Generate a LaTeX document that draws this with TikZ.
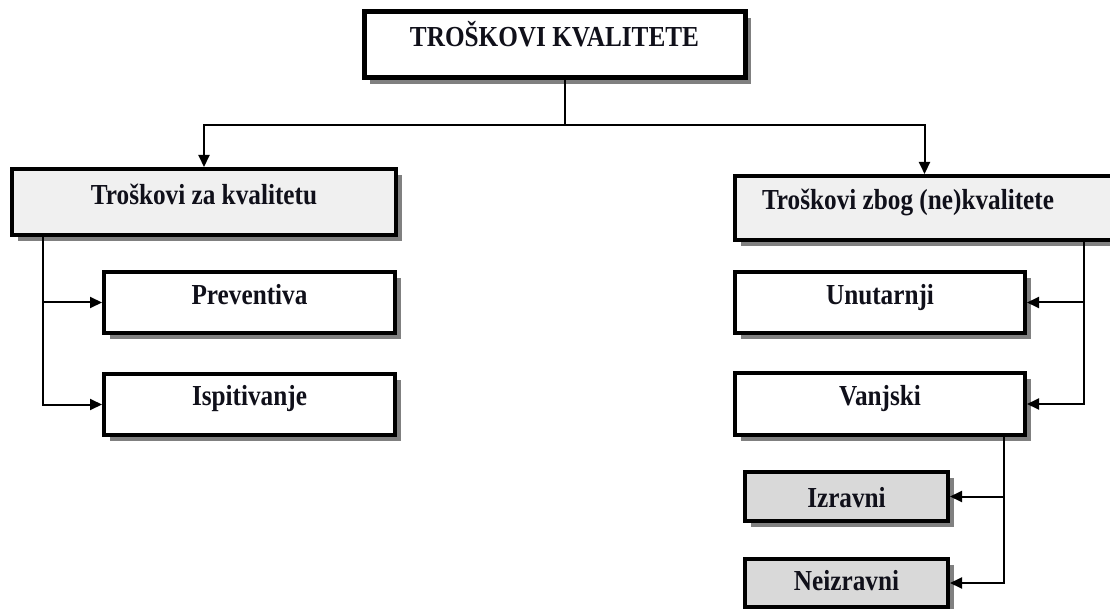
\documentclass[tikz,border=0pt]{standalone}
\usepackage{fontspec}
\setmainfont{Liberation Serif}[FakeStretch=0.87]
\usetikzlibrary{arrows.meta,shadows,calc}
\definecolor{lightfill}{HTML}{F0F0F0}
\definecolor{midfill}{HTML}{D9D9D9}
\definecolor{shadowgray}{HTML}{808080}
\definecolor{inkcol}{HTML}{10101A}
\begin{document}
\begin{tikzpicture}[x=1pt,y=-1pt,
  box/.style={draw=black, line width=4pt, fill=white, inner sep=0pt,
    text=inkcol, text height=19pt, text depth=0pt,
    font=\fontsize{29}{32}\selectfont\bfseries,
    drop shadow={shadow xshift=6pt, shadow yshift=-6pt, fill=shadowgray, opacity=1}},
  conn/.style={line width=2pt, draw=black},
  arr/.style={conn, -{Triangle[length=12pt,width=11pt]}}]
\useasboundingbox (0,0) rectangle (1110,609);
% boxes
\node[box, line width=5pt, minimum width=381pt, minimum height=66pt] (top) at (554.5,45) {\raisebox{7.5pt}{TROŠKOVI KVALITETE}};
\node[box, fill=lightfill, minimum width=384pt, minimum height=66pt] (L1) at (204,202) {\raisebox{6.5pt}{Troškovi za kvalitetu}};
\node[box, minimum width=291pt, minimum height=61pt] (P) at (249.5,302.5) {\raisebox{7pt}{Preventiva}};
\node[box, minimum width=291pt, minimum height=61pt] (I) at (249.5,404.5) {\raisebox{9pt}{Ispitivanje}};
\node[box, fill=lightfill, minimum width=379pt, minimum height=64pt] (R1) at (924.5,208) {\raisebox{7.5pt}{\hspace*{-33pt}Troškovi zbog (ne)kvalitete}};
\node[box, minimum width=290pt, minimum height=61pt] (U) at (880,302.5) {\raisebox{7pt}{Unutarnji}};
\node[box, minimum width=290pt, minimum height=62pt] (V) at (880,404) {\raisebox{8.5pt}{Vanjski}};
\node[box, fill=midfill, minimum width=203pt, minimum height=49pt] (Iz) at (846.5,496.5) {\raisebox{-1pt}{Izravni}};
\node[box, fill=midfill, minimum width=203pt, minimum height=48pt] (Ne) at (846.5,583) {\raisebox{2.5pt}{Neizravni}};
% junction coordinates
\coordinate (j) at (565,125);
\coordinate (lv) at (43,0);
\coordinate (rv) at (1084,0);
\coordinate (vv) at (1004,0);
% connectors
\draw[conn] (top.south -| j) -- (j);
\draw[arr] (j) -| (L1.north);
\draw[arr] (j) -| (R1.north);
\draw[arr] (L1.south -| lv) |- (P.west);
\draw[arr] (L1.south -| lv) |- (I.west);
\draw[arr] (R1.south -| rv) |- (U.east);
\draw[arr] (R1.south -| rv) |- (V.east);
\draw[arr] (V.south -| vv) |- (Iz.east);
\draw[arr] (V.south -| vv) |- (Ne.east);
\end{tikzpicture}
\end{document}
